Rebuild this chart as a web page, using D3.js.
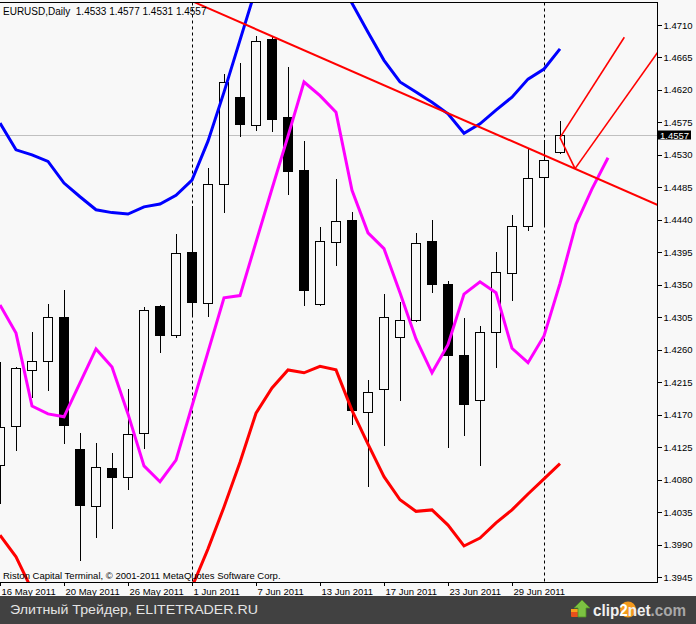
<!DOCTYPE html>
<html><head><meta charset="utf-8">
<script src="https://cdn.jsdelivr.net/npm/d3@7"></script>
<style>
body{margin:0;background:#f8f8f8;}
svg{display:block;}
text{font-family:"Liberation Sans",Arial,sans-serif;}
</style>
</head><body>
<svg id="chart" width="696" height="624"></svg>
<script>
// ---------- DATA ----------
const symbol = "EURUSD,Daily";
const dates = ["16 May","17 May","18 May","19 May","20 May","23 May","24 May","25 May","26 May","27 May",
  "30 May","31 May","1 Jun","2 Jun","3 Jun","6 Jun","7 Jun","8 Jun","9 Jun","10 Jun",
  "13 Jun","14 Jun","15 Jun","16 Jun","17 Jun","20 Jun","21 Jun","22 Jun","23 Jun","24 Jun",
  "27 Jun","28 Jun","29 Jun","30 Jun","1 Jul","4 Jul"];
const open  = [1.4101,1.4154,1.4233,1.4245,1.4305,1.4122,1.4043,1.4096,1.4083,1.4144,1.4321,1.4280,1.4395,1.4324,1.4489,1.4610,1.4572,1.4691,1.4583,1.4509,1.4323,1.4409,1.4440,1.4173,1.4205,1.4277,1.4301,1.4411,1.4351,1.4253,1.4190,1.4284,1.4367,1.4431,1.4499,1.4533];
const high  = [1.4243,1.4236,1.4284,1.4323,1.4343,1.4145,1.4131,1.4117,1.4206,1.4319,1.4322,1.4420,1.4459,1.4512,1.4642,1.4658,1.4695,1.4693,1.4652,1.4549,1.4430,1.4497,1.4451,1.4218,1.4337,1.4326,1.4422,1.4440,1.4355,1.4304,1.4293,1.4395,1.4447,1.4539,1.4551,1.4577];
const low   = [1.4046,1.4119,1.4193,1.4203,1.4130,1.3967,1.3999,1.4011,1.4065,1.4123,1.4255,1.4276,1.4305,1.4306,1.4449,1.4555,1.4563,1.4562,1.4475,1.4320,1.4320,1.4376,1.4155,1.4070,1.4126,1.4189,1.4299,1.4339,1.4124,1.4140,1.4099,1.4234,1.4328,1.4425,1.4430,1.4531];
const close = [1.4153,1.4234,1.4245,1.4306,1.4156,1.4044,1.4097,1.4084,1.4143,1.4315,1.4281,1.4394,1.4326,1.4489,1.4631,1.4573,1.4688,1.4580,1.4508,1.4343,1.4410,1.4438,1.4176,1.4201,1.4305,1.4301,1.4408,1.4352,1.4252,1.4185,1.4284,1.4367,1.4432,1.4498,1.4523,1.4557];

// indicator lines (one value per bar; magenta is shifted 3 bars forward)
const upperLine = [1.4574,1.4537,1.4530,1.4521,1.4491,1.4472,1.4454,1.4450,1.4448,1.4458,1.4462,1.4474,1.4495,1.4549,1.4617,1.4689,1.4761,1.4800,1.4821,1.4821,1.4807,1.4779,1.4740,1.4700,1.4661,1.4631,1.4617,1.4603,1.4587,1.4560,1.4573,1.4592,1.4610,1.4635,1.4649,1.4677];
const lowerLine = [1.4003,1.3973,1.3927,1.3906,1.3892,1.3885,1.3883,1.3883,1.3885,1.3892,1.3902,1.3913,1.3931,1.3984,1.4042,1.4104,1.4172,1.4207,1.4232,1.4228,1.4237,1.4232,1.4176,1.4129,1.4084,1.4052,1.4036,1.4038,1.4017,1.3988,1.3999,1.4020,1.4038,1.4060,1.4081,1.4102];
const midLine   = [1.4322,1.4283,1.4182,1.4171,1.4167,1.4214,1.4261,1.4236,1.4171,1.4099,1.4077,1.4107,1.4182,1.4257,1.4332,1.4335,1.4409,1.4483,1.4556,1.4631,1.4612,1.4589,1.4481,1.4422,1.4400,1.4339,1.4275,1.4228,1.4267,1.4337,1.4354,1.4339,1.4262,1.4242,1.4279,1.4352,1.4434,1.4483,1.4526];

// drawn objects: [bar index, price]
const trendLine = [[12,1.4743],[42,1.4452]];
const forkLines = [
  [[35,1.4554],[39.02,1.4693]],
  [[35,1.4554],[35.94,1.4511]],
  [[35.94,1.4511],[42,1.4700]]
];

const priceTicks = [1.3945,1.3990,1.4035,1.4080,1.4125,1.4170,1.4215,1.4260,1.4305,1.4350,1.4395,1.4440,1.4485,1.4530,1.4575,1.4620,1.4665,1.4710];
const timeTickIdx = [0,4,8,12,16,20,24,28,32];
const timeTickLabels = ["16 May 2011","20 May 2011","26 May 2011","1 Jun 2011","7 Jun 2011","13 Jun 2011","17 Jun 2011","23 Jun 2011","29 Jun 2011"];
const separatorIdx = [12,34];
const lastPrice = close[close.length-1];

// ---------- DRAW ----------
const svg = d3.select("#chart");
const W = 696, H = 624;
const plot = {left:0, top:2.5, right:657.5, bottom:582.5};

const x = d3.scaleLinear().domain([0,41]).range([0,656]);
const y = d3.scaleLinear().domain([1.3945,1.4710]).range([577,25]);

svg.append("rect").attr("width",W).attr("height",H).attr("fill","#f8f8f8");

svg.append("clipPath").attr("id","clip").append("rect")
  .attr("x",0).attr("y",plot.top).attr("width",plot.right).attr("height",plot.bottom-plot.top);
const g = svg.append("g").attr("clip-path","url(#clip)");

// current price line
g.append("line").attr("x1",0).attr("x2",plot.right)
  .attr("y1",Math.round(y(lastPrice))+0.5).attr("y2",Math.round(y(lastPrice))+0.5)
  .attr("stroke","#c0c0c0").attr("stroke-width",1);

// period separators
g.selectAll("line.sep").data(separatorIdx).join("line").attr("class","sep")
  .attr("x1",d=>Math.round(x(d))+0.5).attr("x2",d=>Math.round(x(d))+0.5)
  .attr("y1",plot.top).attr("y2",plot.bottom)
  .attr("stroke","#000").attr("stroke-width",1).attr("stroke-dasharray","3,3");

// candles
const idx = d3.range(open.length);
const cg = g.append("g").attr("shape-rendering","crispEdges");
cg.selectAll("line.wick").data(idx).join("line").attr("class","wick")
  .attr("x1",i=>Math.round(x(i))+0.5).attr("x2",i=>Math.round(x(i))+0.5)
  .attr("y1",i=>y(high[i])).attr("y2",i=>y(low[i]))
  .attr("stroke","#000");
cg.selectAll("rect.body").data(idx).join("rect").attr("class","body")
  .attr("x",i=>Math.round(x(i))-4.5).attr("width",9)
  .attr("y",i=>Math.round(Math.min(y(open[i]),y(close[i])))+0.5)
  .attr("height",i=>Math.max(1,Math.round(Math.abs(y(open[i])-y(close[i])))))
  .attr("fill",i=>close[i]>=open[i]?"#f8f8f8":"#000")
  .attr("stroke","#000").attr("stroke-width",1);

// indicator lines
const line = d3.line().x((d,i)=>x(i)).y(d=>y(d));
g.append("path").attr("d",line(upperLine)).attr("fill","none").attr("stroke","#0000ff").attr("stroke-width",3);
g.append("path").attr("d",line(lowerLine)).attr("fill","none").attr("stroke","#ff0000").attr("stroke-width",3);
g.append("path").attr("d",line(midLine)).attr("fill","none").attr("stroke","#ff00ff").attr("stroke-width",3);

// trend line and fork
const seg = d3.line().x(d=>x(d[0])).y(d=>y(d[1]));
g.append("path").attr("d",seg(trendLine)).attr("fill","none").attr("stroke","#ff0000").attr("stroke-width",2);
g.selectAll("path.fork").data(forkLines).join("path").attr("class","fork")
  .attr("d",d=>seg(d)).attr("fill","none").attr("stroke","#ff0000").attr("stroke-width",1.6);

// frame
const frame = svg.append("g").attr("shape-rendering","crispEdges").attr("stroke","#000");
frame.append("line").attr("x1",0).attr("x2",plot.right).attr("y1",plot.top).attr("y2",plot.top);
frame.append("line").attr("x1",plot.right).attr("x2",plot.right).attr("y1",plot.top).attr("y2",plot.bottom);
frame.append("line").attr("x1",0).attr("x2",plot.right).attr("y1",plot.bottom).attr("y2",plot.bottom);

// right price axis
const yAxis = d3.axisRight(y).tickValues(priceTicks).tickSize(4).tickPadding(2).tickFormat(d3.format(".4f"));
const ya = svg.append("g").attr("transform",`translate(${plot.right},0)`).call(yAxis);
ya.select(".domain").remove();
ya.selectAll(".tick line").attr("stroke","#000").attr("shape-rendering","crispEdges");
ya.selectAll(".tick text").attr("font-size","9.5px").attr("font-family","Liberation Sans, Arial, sans-serif").attr("fill","#000");

// last price label
const ly = y(lastPrice);
svg.append("rect").attr("x",658).attr("y",Math.round(ly)-4.5).attr("width",33).attr("height",9).attr("fill","#000");
svg.append("text").attr("x",674.5).attr("y",Math.round(ly)+4).attr("text-anchor","middle")
  .attr("font-size","9.5px").attr("fill","#fff").text(d3.format(".4f")(lastPrice));

// bottom time axis
const xAxis = d3.axisBottom(x).tickValues(timeTickIdx).tickSize(3).tickFormat((d,i)=>timeTickLabels[i]);
const xa = svg.append("g").attr("transform",`translate(0,${plot.bottom})`).call(xAxis);
xa.select(".domain").remove();
xa.selectAll(".tick line").attr("stroke","#000").attr("shape-rendering","crispEdges");
xa.selectAll(".tick text").attr("text-anchor","start").attr("dx","1").attr("y",3).attr("dy","9")
  .attr("font-size","9.5px").attr("font-family","Liberation Sans, Arial, sans-serif").attr("fill","#000");

// header text
const f4 = d3.format(".4f");
const L = open.length-1;
svg.append("text").attr("x",3).attr("y",14.5).attr("font-size","10px").attr("fill","#000")
  .attr("xml:space","preserve").style("white-space","pre")
  .text(`${symbol}  ${f4(open[L])} ${f4(high[L])} ${f4(low[L])} ${f4(close[L])}`);

// copyright
svg.append("text").attr("x",3).attr("y",578.5).attr("font-size","9.5px").attr("fill","#000")
  .text("Riston Capital Terminal, © 2001-2011 MetaQuotes Software Corp.");

// footer band
svg.append("rect").attr("x",0).attr("y",596).attr("width",W).attr("height",28).attr("fill","#414141");
svg.append("text").attr("x",10).attr("y",614).attr("font-size","13px")
  .attr("font-family","DejaVu Sans, sans-serif").attr("fill","#e4e4e4")
  .attr("textLength",248).attr("lengthAdjust","spacingAndGlyphs")
  .text("Элитный Трейдер, ELITETRADER.RU");

// clip2net logo
const logo = svg.append("g");
logo.append("rect").attr("x",571).attr("y",609).attr("width",11).attr("height",8).attr("rx",1).attr("fill","#e8501c");
logo.append("rect").attr("x",571).attr("y",609).attr("width",11).attr("height",3).attr("fill","#f6a21a");
logo.append("path").attr("d","M582,600 L590,608 L586,608 L586,617 L578,617 L578,608 L574,608 Z")
  .attr("fill","#7cc242").attr("stroke","#4f8f23").attr("stroke-width",0.8);
logo.append("circle").attr("cx",628).attr("cy",609.5).attr("r",8).attr("fill","#f39a1e");
const lt = logo.append("text").attr("x",593).attr("y",616).attr("font-size","16px").attr("font-weight","bold")
  .attr("textLength",93).attr("lengthAdjust","spacingAndGlyphs");
lt.append("tspan").attr("fill","#f0f0f0").text("clip");
lt.append("tspan").attr("fill","#ffffff").text("2");
lt.append("tspan").attr("fill","#f0f0f0").text("net");
lt.append("tspan").attr("fill","#a8a8a8").text(".com");
</script>
</body></html>
